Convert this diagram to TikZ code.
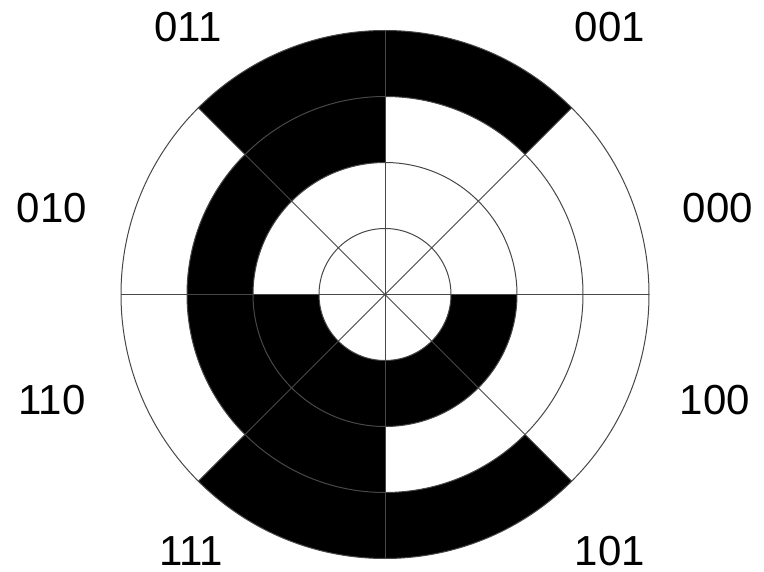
\documentclass[tikz,border=0pt]{standalone}
\usepackage{fontspec}
\setmainfont{Liberation Sans}
\usepackage{tikz}

\begin{document}
\begin{tikzpicture}[x=1pt, y=1pt,
        % Style for the black coded segments
        code/.style  = {fill=black},
        % Style for the thin ring and spoke lines
        grid/.style  = {draw=black!72, line width=1pt},
        % Style for the code words round the disk
        word/.style  = {inner sep=0pt, font=\fontsize{42}{50}\selectfont}
    ]
    \useasboundingbox (0,-572) rectangle (764,0);
    \coordinate (c) at (385,-294.5);

    % --- Outer ring (last bit) ---
    \fill[code] ([shift={(c)}]45:198) arc[start angle=45, end angle=135, radius=198]
        -- ([shift={(c)}]135:264) arc[start angle=135, end angle=45, radius=264] -- cycle;
    \fill[code] ([shift={(c)}]225:198) arc[start angle=225, end angle=315, radius=198]
        -- ([shift={(c)}]315:264) arc[start angle=315, end angle=225, radius=264] -- cycle;

    % --- Middle ring (middle bit) ---
    \fill[code] ([shift={(c)}]90:132) arc[start angle=90, end angle=270, radius=132]
        -- ([shift={(c)}]270:198) arc[start angle=270, end angle=90, radius=198] -- cycle;

    % --- Inner ring (first bit) ---
    \fill[code] ([shift={(c)}]180:66) arc[start angle=180, end angle=360, radius=66]
        -- ([shift={(c)}]360:132) arc[start angle=360, end angle=180, radius=132] -- cycle;

    % Rings and spokes
    \foreach \r in {66,132,198,264}
        \draw[grid] (c) circle[radius=\r];
    \foreach \a in {0,45,90,135}
        \draw[grid] ([shift={(c)}]\a:264) -- ([shift={(c)}]\a+180:264);

    % Code words
    \node[word] (w000) at (718,-208.5) {000};
    \node[word] (w001) at (610,-27) {001};
    \node[word] (w011) at (188,-27) {011};
    \node[word] (w010) at (52,-208.5) {010};
    \node[word] (w110) at (52,-400) {110};
    \node[word] (w111) at (191,-551.5) {111};
    \node[word] (w101) at (610,-551.5) {101};
    \node[word] (w100) at (715,-400) {100};

\end{tikzpicture}
\end{document}
